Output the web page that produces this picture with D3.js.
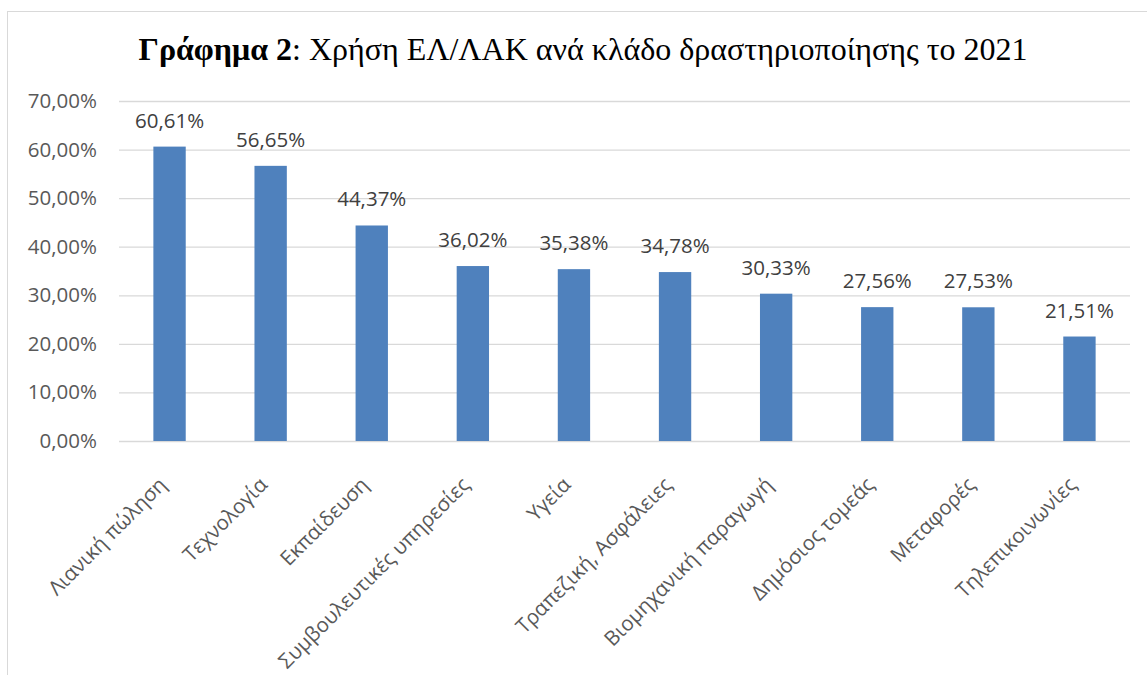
<!DOCTYPE html>
<html><head><meta charset="utf-8">
<script src="https://cdn.jsdelivr.net/npm/d3@7"></script>
<style>body{margin:0;background:#fff}svg{display:block}</style>
</head><body>
<script>
const categories = ["Λιανική πώληση","Τεχνολογία","Εκπαίδευση","Συμβουλευτικές υπηρεσίες","Υγεία","Τραπεζική, Ασφάλειες","Βιομηχανική παραγωγή","Δημόσιος τομεάς","Μεταφορές","Τηλεπικοινωνίες"];
const values = [0.6061,0.5665,0.4437,0.3602,0.3538,0.3478,0.3033,0.2756,0.2753,0.2151];
const yTicks = [0,0.1,0.2,0.3,0.4,0.5,0.6,0.7];
const titleBold = "Γράφημα 2";
const titleRest = ": Χρήση ΕΛ/ΛΑΚ ανά κλάδο δραστηριοποίησης το 2021";

const W = 1147, H = 675;
const svg = d3.select("body").append("svg").attr("width", W).attr("height", H);
svg.append("rect").attr("x", 7.5).attr("y", 11.5).attr("width", 1150).attr("height", 700)
  .attr("fill", "#fff").attr("stroke", "#d9d9d9").attr("stroke-width", 1);

const fmt = v => (v*100).toFixed(2).replace(".", ",") + "%";
const x = d3.scaleBand().domain(categories).range([119, 1130]).paddingInner(0.68).paddingOuter(0.34);
const y = d3.scaleLinear().domain([0, 0.7]).range([441, 101]);
const font = "'Open Sans', sans-serif";

const t = svg.append("text").attr("x", 583).attr("y", 60).attr("text-anchor", "middle")
  .attr("font-family", "'Liberation Serif', 'Times New Roman', serif").attr("font-size", 32).attr("fill", "#000");
t.append("tspan").attr("font-weight", "bold").text(titleBold);
t.append("tspan").text(titleRest);

const yAxis = svg.append("g").attr("transform", "translate(119,0)")
  .call(d3.axisLeft(y).tickValues(yTicks).tickFormat(fmt).tickSize(-1011).tickPadding(22));
yAxis.select(".domain").remove();
yAxis.selectAll(".tick line").attr("stroke", "#d9d9d9").attr("stroke-width", 1.3);
yAxis.selectAll(".tick text").attr("font-family", font).attr("font-size", 20.5).attr("fill", "#595959");

svg.append("g").selectAll("rect").data(values).join("rect")
  .attr("x", (d,i) => x(categories[i])).attr("width", x.bandwidth())
  .attr("y", d => y(d)).attr("height", d => y(0) - y(d)).attr("fill", "#4f81bd");

svg.append("g").selectAll("text").data(values).join("text")
  .attr("x", (d,i) => x(categories[i]) + x.bandwidth()/2).attr("y", d => y(d) - 19)
  .attr("text-anchor", "middle").attr("font-family", font).attr("font-size", 20.5).attr("fill", "#404040")
  .text(fmt);

const xAxis = svg.append("g").attr("transform", "translate(0,441)")
  .call(d3.axisBottom(x).tickSize(0).tickPadding(0));
xAxis.select(".domain").remove();
xAxis.selectAll(".tick text").attr("font-family", font).attr("font-size", 20.5).attr("fill", "#595959")
  .attr("text-anchor", "end").attr("dy", 0)
  .attr("transform", "translate(-2,45) rotate(-45)");
</script>
</body></html>
